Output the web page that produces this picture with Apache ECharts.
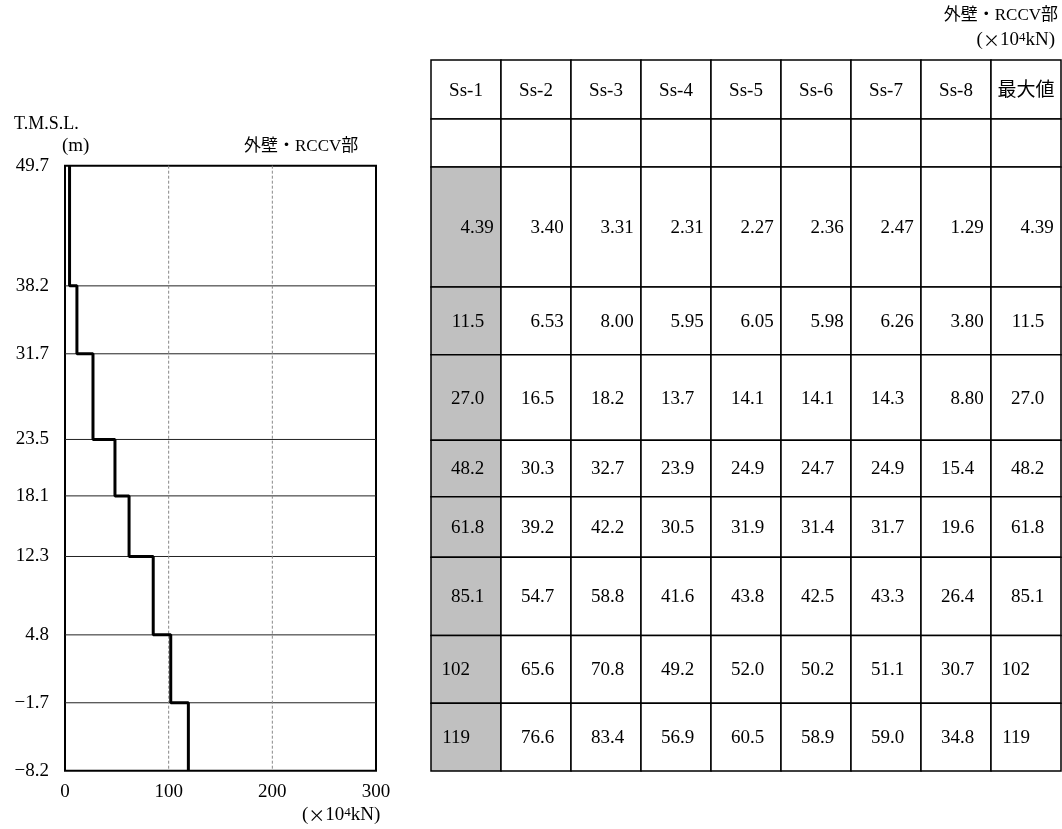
<!DOCTYPE html>
<html>
<head>
<meta charset="utf-8">
<script src="https://cdn.jsdelivr.net/npm/echarts@6/dist/echarts.min.js"></script>
<style>
html,body{margin:0;padding:0;background:#fff;}
#main{width:1062px;height:829px;}
</style>
</head>
<body>
<div id="main"></div>
<script>
// ---- data ----
const levels = [49.7, 38.2, 31.7, 23.5, 18.1, 12.3, 4.8, -1.7, -8.2];
const cases = ['Ss-1', 'Ss-2', 'Ss-3', 'Ss-4', 'Ss-5', 'Ss-6', 'Ss-7', 'Ss-8', '最大値'];
const ss1 = [4.39, 11.5, 27.0, 48.2, 61.8, 85.1, 102, 119];
const ss2 = [3.40, 6.53, 16.5, 30.3, 39.2, 54.7, 65.6, 76.6];
const ss3 = [3.31, 8.00, 18.2, 32.7, 42.2, 58.8, 70.8, 83.4];
const ss4 = [2.31, 5.95, 13.7, 23.9, 30.5, 41.6, 49.2, 56.9];
const ss5 = [2.27, 6.05, 14.1, 24.9, 31.9, 43.8, 52.0, 60.5];
const ss6 = [2.36, 5.98, 14.1, 24.7, 31.4, 42.5, 50.2, 58.9];
const ss7 = [2.47, 6.26, 14.3, 24.9, 31.7, 43.3, 51.1, 59.0];
const ss8 = [1.29, 3.80, 8.80, 15.4, 19.6, 26.4, 30.7, 34.8];
const maxVal = [4.39, 11.5, 27.0, 48.2, 61.8, 85.1, 102, 119];
const xTicks = [0, 100, 200, 300];

const columns = [ss1, ss2, ss3, ss4, ss5, ss6, ss7, ss8, maxVal];
const FONT = "'Liberation Serif','Noto Sans CJK JP',serif";
const CJK = "'Noto Sans CJK JP',sans-serif";
const NUM = 19;

// step line built from max values and levels
const stepData = [];
maxVal.forEach((v, i) => { stepData.push([v, levels[i]], [v, levels[i + 1]]); });

const bodyData = [];
columns.forEach((col, c) => col.forEach((v, r) => bodyData.push([c, r])));

const chart = echarts.init(document.getElementById('main'), null, {renderer: 'canvas'});

const unitRich = {
  sup: {fontSize: 13, verticalAlign: 'top', fontFamily: FONT, fill: '#000', color: '#000'},
  x: {fontSize: 17, fontFamily: CJK, fill: '#000', color: '#000'}
};
const unitText = '(' + '{x|×}' + '10{sup|4}kN)';

const option = {
  animation: false,
  backgroundColor: '#fff',
  grid: [
    {left: 65, top: 165.7, width: 311, height: 605, show: true, borderColor: '#000', borderWidth: 2, backgroundColor: 'transparent'},
    {left: 431, top: 167, width: 630, height: 604}
  ],
  xAxis: [
    {type: 'value', gridIndex: 0, min: xTicks[0], max: xTicks[xTicks.length - 1], interval: 100,
     axisLine: {show: false}, axisTick: {show: false}, splitLine: {show: false},
     axisLabel: {fontSize: NUM, color: '#000', fontFamily: FONT, margin: 12}},
    {type: 'value', gridIndex: 1, min: 0, max: cases.length, show: false}
  ],
  yAxis: [
    {type: 'value', gridIndex: 0, min: levels[levels.length - 1], max: levels[0],
     axisLine: {show: false}, axisTick: {show: false}, splitLine: {show: false},
     axisLabel: {customValues: levels, fontSize: NUM, color: '#000', fontFamily: FONT, margin: 16,
       formatter: v => (v < 0 ? '−' : '') + Math.abs(v).toFixed(1)}},
    {type: 'value', gridIndex: 1, min: levels[levels.length - 1], max: levels[0], show: false}
  ],
  graphic: [
    {type: 'text', left: 14, top: 115, style: {text: 'T.M.S.L.', font: '18px ' + FONT, fill: '#000'}},
    {type: 'text', left: 62, top: 137, style: {text: '(m)', font: '19px ' + FONT, fill: '#000'}},
    {type: 'text', left: 244, top: 138, style: {text: '外壁・RCCV部', font: '17px ' + FONT, fill: '#000'}},
    {type: 'text', right: 4, top: 7, style: {text: '外壁・RCCV部', font: '17px ' + FONT, fill: '#000'}},
    {type: 'text', right: 7, top: 31, style: {text: unitText, font: '19px ' + FONT, fill: '#000', rich: unitRich}},
    {type: 'text', left: 302, top: 806, style: {text: unitText, font: '19px ' + FONT, fill: '#000', rich: unitRich}}
  ],
  series: [
    // horizontal level lines
    {type: 'custom', xAxisIndex: 0, yAxisIndex: 0, silent: true, z: 1,
     data: levels.slice(1, -1).map(v => [v]),
     renderItem: (p, api) => {
       const y = api.value(0);
       const a = api.coord([xTicks[0], y]);
       const b = api.coord([xTicks[xTicks.length - 1], y]);
       return {type: 'line', shape: {x1: a[0], y1: a[1], x2: b[0], y2: b[1]}, style: {stroke: '#222', lineWidth: 1}};
     }},
    // vertical dashed grid lines
    {type: 'custom', xAxisIndex: 0, yAxisIndex: 0, silent: true, z: 1,
     data: xTicks.slice(1, -1).map(v => [v]),
     renderItem: (p, api) => {
       const x = api.value(0);
       const a = api.coord([x, levels[0]]);
       const b = api.coord([x, levels[levels.length - 1]]);
       return {type: 'line', shape: {x1: a[0], y1: a[1], x2: b[0], y2: b[1]}, style: {stroke: '#888', lineWidth: 1, lineDash: [3, 2]}};
     }},
    // step line of maximum values
    {type: 'line', xAxisIndex: 0, yAxisIndex: 0, data: stepData, symbol: 'none', z: 5,
     lineStyle: {color: '#000', width: 3}},
    // table header
    {type: 'custom', xAxisIndex: 1, yAxisIndex: 1, silent: true, z: 2,
     data: cases.map((n, i) => [i]),
     renderItem: (p, api) => {
       const c = api.value(0);
       const a = api.coord([c, levels[0]]);
       const b = api.coord([c + 1, levels[0]]);
       const w = b[0] - a[0];
       return {type: 'group', children: [
         {type: 'rect', shape: {x: a[0], y: a[1] - 107, width: w, height: 59}, style: {fill: '#fff', stroke: '#000', lineWidth: 1.5}},
         {type: 'rect', shape: {x: a[0], y: a[1] - 48, width: w, height: 48}, style: {fill: '#fff', stroke: '#000', lineWidth: 1.5}},
         {type: 'text', style: {text: cases[c], x: a[0] + w / 2, y: a[1] - 76, align: 'center', verticalAlign: 'middle', font: NUM + 'px ' + FONT, fill: '#000'}}
       ]};
     }},
    // table body
    {type: 'custom', xAxisIndex: 1, yAxisIndex: 1, silent: true, z: 2,
     data: bodyData,
     renderItem: (p, api) => {
       const c = api.value(0), r = api.value(1);
       const a = api.coord([c, levels[r]]);
       const b = api.coord([c + 1, levels[r + 1]]);
       const str = columns[c][r].toPrecision(3);
       const parts = str.split('.');
       const intPart = parts[0];
       const frac = parts.length > 1 ? '.' + parts[1] : '';
       const ax = a[0] + 39;
       const cy = (a[1] + b[1]) / 2 + 1;
       return {type: 'group', children: [
         {type: 'rect', shape: {x: a[0], y: a[1], width: b[0] - a[0], height: b[1] - a[1]},
          style: {fill: c === 0 ? '#c0c0c0' : '#fff', stroke: '#000', lineWidth: 1.5}},
         {type: 'text', style: {text: intPart, x: ax, y: cy, align: 'right', verticalAlign: 'middle', font: NUM + 'px ' + FONT, fill: '#000'}},
         {type: 'text', style: {text: frac, x: ax, y: cy, align: 'left', verticalAlign: 'middle', font: NUM + 'px ' + FONT, fill: '#000'}}
       ]};
     }}
  ]
};
chart.setOption(option);
</script>
</body>
</html>
